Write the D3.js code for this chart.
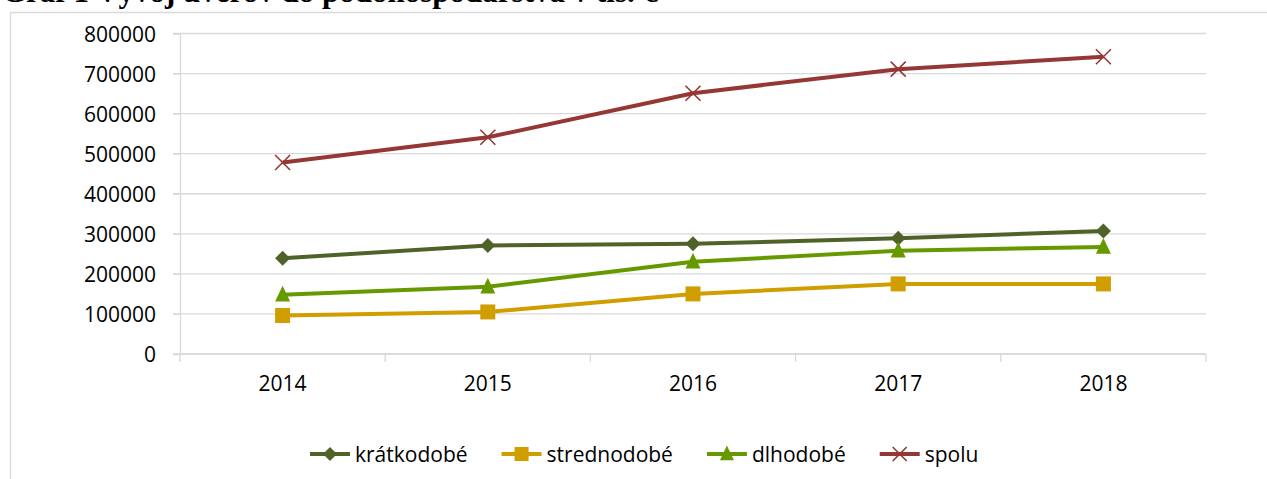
<!DOCTYPE html>
<html>
<head>
<meta charset="utf-8">
<script src="https://cdn.jsdelivr.net/npm/d3@7"></script>
<style>
  body { margin: 0; background: #fff; }
  svg { display: block; }
  .axis text { font-family: "Open Sans", sans-serif; font-size: 21px; fill: #000; }
  .axis path, .axis line { stroke: #d9d9d9; stroke-width: 1.3; }
</style>
</head>
<body>
<svg id="vis" width="1267" height="479"></svg>
<script>
// data
var years = ["2014", "2015", "2016", "2017", "2018"];
var kratkodobe = [239000, 271000, 275000, 289000, 307000];
var strednodobe = [96000, 105000, 150000, 175000, 175000];
var dlhodobe = [148000, 168000, 230000, 258000, 267000];
var spolu = [478000, 541000, 651000, 711000, 742000];
var yTicks = [0, 100000, 200000, 300000, 400000, 500000, 600000, 700000, 800000];
var seriesNames = ["krátkodobé", "strednodobé", "dlhodobé", "spolu"];
var seriesColors = ["#4f6228", "#d19e00", "#669900", "#953735"];
var seriesSymbols = ["diamond", "square", "triangle", "cross"];

var svg = d3.select("#vis"),
    width = +svg.attr("width"),
    height = +svg.attr("height");

var series = [kratkodobe, strednodobe, dlhodobe, spolu].map(function(v, i) {
  return { name: seriesNames[i], color: seriesColors[i], symbol: seriesSymbols[i],
           values: v.map(function(d, j) { return { year: years[j], value: d }; }) };
});

// title (clipped at top of the picture)
svg.append("text")
    .attr("x", 2)
    .attr("y", 2)
    .attr("font-family", "Liberation Serif")
    .attr("font-weight", "bold")
    .attr("font-size", 31)
    .text("Graf 1 Vývoj úverov do pôdohospodárstva v tis. €");

// chart frame
svg.append("path")
    .attr("d", "M10.5," + height + "V12.5H" + width)
    .attr("fill", "none")
    .attr("stroke", "#d9d9d9")
    .attr("stroke-width", 1.3);

var x = d3.scaleBand().domain(years).range([180, 1206]);
var y = d3.scaleLinear().domain([0, 800000]).range([354, 33.5]);

// gridlines
svg.append("g")
  .selectAll("line")
  .data(yTicks)
  .enter().append("line")
    .attr("x1", 173)
    .attr("x2", 1206)
    .attr("y1", function(d) { return y(d); })
    .attr("y2", function(d) { return y(d); })
    .attr("stroke", "#d9d9d9")
    .attr("stroke-width", 1.3);

// y axis
var yAxis = svg.append("g")
    .attr("class", "axis")
    .attr("transform", "translate(180,0)")
    .call(d3.axisLeft(y).tickValues(yTicks).tickSize(7).tickPadding(17).tickFormat(d3.format("d")));
yAxis.selectAll(".tick text").attr("dy", "0.36em");

// x axis: ticks at band edges
var xAxis = svg.append("g")
    .attr("class", "axis")
    .attr("transform", "translate(0,354)")
    .call(d3.axisBottom(x).tickSize(0).tickPadding(22).tickSizeOuter(0));
xAxis.select(".domain").remove();
xAxis.append("line")
    .attr("x1", 180).attr("x2", 1206)
    .attr("stroke", "#d9d9d9").attr("stroke-width", 1.3);
xAxis.selectAll(".edge")
    .data(years.concat(["end"]))
    .enter().append("line")
    .attr("class", "edge")
    .attr("x1", function(d, i) { return i < years.length ? x(d) : x.range()[1]; })
    .attr("x2", function(d, i) { return i < years.length ? x(d) : x.range()[1]; })
    .attr("y1", 0)
    .attr("y2", 8)
    .attr("stroke", "#d9d9d9").attr("stroke-width", 1.3);

var cx = function(d) { return x(d.year) + x.bandwidth() / 2; };

var line = d3.line()
    .x(cx)
    .y(function(d) { return y(d.value); });

function symbolPath(type, size) {
  if (type === "diamond") {
    var h = size / 2;
    return "M0," + (-h) + "L" + h + ",0L0," + h + "L" + (-h) + ",0Z";
  }
  if (type === "square") {
    var s = size / 2;
    return "M" + (-s) + "," + (-s) + "H" + s + "V" + s + "H" + (-s) + "Z";
  }
  if (type === "triangle") {
    var w = size / 2;
    return "M0," + (-size * 0.6) + "L" + w + "," + (size * 0.45) + "L" + (-w) + "," + (size * 0.45) + "Z";
  }
  var c = size / 2;
  return "M" + (-c) + "," + (-c) + "L" + c + "," + c + "M" + c + "," + (-c) + "L" + (-c) + "," + c;
}

function drawMarker(sel, d, size) {
  var p = sel.append("path").attr("d", symbolPath(d.symbol, size));
  if (d.symbol === "cross") {
    p.attr("fill", "none").attr("stroke", d.color).attr("stroke-width", 1.6);
  } else {
    p.attr("fill", d.color);
  }
}

var lines = svg.append("g")
  .selectAll("g")
  .data(series)
  .enter().append("g");

lines.append("path")
    .attr("d", function(d) { return line(d.values); })
    .attr("fill", "none")
    .attr("stroke", function(d) { return d.color; })
    .attr("stroke-width", 4)
    .attr("stroke-linejoin", "round");

lines.each(function(s) {
  d3.select(this).selectAll("g.pt")
    .data(s.values)
    .enter().append("g")
      .attr("class", "pt")
      .attr("transform", function(d) { return "translate(" + cx(d) + "," + y(d.value) + ")"; })
      .each(function() { drawMarker(d3.select(this), s, 15); });
});

// legend
var legend = svg.append("g")
  .selectAll("g")
  .data(series)
  .enter().append("g");

legend.append("line")
    .attr("x1", 0).attr("x2", 40)
    .attr("stroke", function(d) { return d.color; })
    .attr("stroke-width", 4);

legend.each(function(d) {
  var g = d3.select(this).append("g").attr("transform", "translate(20,0)");
  drawMarker(g, d, 14);
});

legend.append("text")
    .attr("x", 45)
    .attr("y", 8)
    .attr("font-family", "Open Sans, sans-serif")
    .attr("font-size", 21)
    .attr("fill", "#000")
    .text(function(d) { return d.name; });

var lx = 310;
legend.attr("transform", function() {
  var t = "translate(" + lx + ",454)";
  lx += 45 + d3.select(this).select("text").node().getComputedTextLength() + 34;
  return t;
});
</script>
</body>
</html>
